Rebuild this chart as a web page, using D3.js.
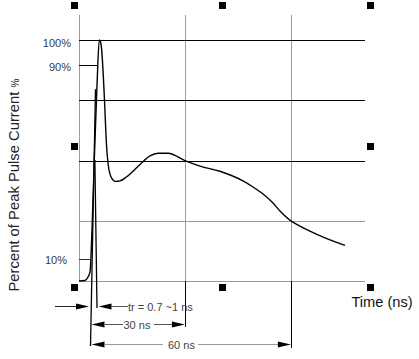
<!DOCTYPE html>
<html><head><meta charset="utf-8">
<script src="https://cdn.jsdelivr.net/npm/d3@7"></script>
<style>html,body{margin:0;padding:0;background:#fff;}svg{display:block;}</style>
</head><body>
<svg id="c" width="419" height="359"></svg>
<script>
// ---- data ----
const times = [0, 1.7, 2.55, 3.12, 3.68, 4.33, 5.10, 5.75, 6.23, 6.80, 7.22, 7.79, 8.21, 8.78, 9.63, 10.48, 11.61, 13.5, 17.28, 20.1, 22.37, 25.2, 30.0, 34.27, 39.9, 46.45, 49.28, 52.11, 54.66, 56.92, 60.03, 62.58, 65.41, 69.66, 75.33];
const percent = [0, 0.2, 1.8, 4.1, 21.96, 50.8, 81.75, 100, 98.4, 87.9, 75.5, 57.0, 49.6, 45.0, 42.6, 42.0, 42.2, 43.9, 49.0, 52.5, 53.6, 53.6, 50.6, 48.3, 46.2, 42.2, 39.7, 36.8, 33.5, 29.8, 25.7, 23.6, 21.5, 18.7, 15.6];
const vGrid = [0, 30, 60];
const hGridDark = [100, 75.5, 50.6];
const hGridLight = [25.7, 0];
const yTicks = [{v: 100, label: "100%"}, {v: 90, label: "90%"}, {v: 10, label: "10%"}];
const riseStart = 3.26, riseEnd = 5.1;
const durations = [30, 60];
const durationLabels = ["30 ns", "60 ns"];
const riseLabel = "tr = 0.7 ~1 ns";
const xTitle = "Time (ns)";
const yTitle = "Percent of Peak Pulse Current";

// ---- scales ----
const x = d3.scaleLinear().domain([0, 81]).range([79, 365]);
const y = d3.scaleLinear().domain([0, 10, 90, 100]).range([281, 259, 65, 40]);
const svg = d3.select("#c");
const FONT = "'Liberation Sans', Arial, sans-serif";
const px = v => Math.round(v) + 0.5;

// grid
const g = svg.append("g").attr("shape-rendering", "crispEdges");
g.selectAll(".v").data(vGrid).join("line")
  .attr("x1", d => px(x(d))).attr("x2", d => px(x(d)))
  .attr("y1", y(110)).attr("y2", y(0)).attr("stroke", "#9a9a9a");
g.selectAll(".hl").data(hGridLight).join("line")
  .attr("x1", x(0)).attr("x2", x(81))
  .attr("y1", d => px(y(d))).attr("y2", d => px(y(d))).attr("stroke", "#9a9a9a");
g.selectAll(".hd").data(hGridDark).join("line")
  .attr("x1", x(0)).attr("x2", x(81))
  .attr("y1", d => px(y(d))).attr("y2", d => px(y(d))).attr("stroke", "#000");
// small ticks
g.append("line").attr("x1", x(0)).attr("x2", x(riseEnd)).attr("y1", px(y(90))).attr("y2", px(y(90))).attr("stroke", "#000");
g.append("line").attr("x1", x(0)).attr("x2", x(3.1)).attr("y1", px(y(10))).attr("y2", px(y(10))).attr("stroke", "#333");

// tick labels
const lab = svg.append("g").attr("font-family", FONT).attr("font-size", 11).attr("fill", "#3a3a3a").attr("text-anchor", "end");
lab.append("text").attr("x", 71).attr("y", y(100) + 6.5).text(yTicks[0].label);
lab.append("text").attr("x", 71).attr("y", y(90) + 5.5).text(yTicks[1].label);
lab.append("text").attr("x", 67).attr("y", y(10) + 4.5).text(yTicks[2].label);

// marker lines
const mk = svg.append("g").attr("stroke", "#000").attr("stroke-width", 1.3);
mk.append("line").attr("x1", x(4.67)).attr("y1", y(80)).attr("x2", x(riseStart)).attr("y2", 346);
mk.append("line").attr("x1", x(4.5)).attr("y1", y(50.8)).attr("x2", x(riseEnd)).attr("y2", 308);
mk.append("line").attr("x1", px(x(durations[0]))).attr("x2", px(x(durations[0]))).attr("y1", y(0)).attr("y2", 327).attr("stroke-width", 1).attr("shape-rendering", "crispEdges");
mk.append("line").attr("x1", px(x(durations[1]))).attr("x2", px(x(durations[1]))).attr("y1", y(0)).attr("y2", 348).attr("stroke-width", 1).attr("shape-rendering", "crispEdges");

// pulse curve
const pts = times.map((t, i) => [t, percent[i]]);
svg.append("path").datum(pts)
  .attr("d", d3.line().x(d => x(d[0])).y(d => y(d[1])).curve(d3.curveMonotoneX))
  .attr("fill", "none").attr("stroke", "#000").attr("stroke-width", 1.4);

// arrows
const an = svg.append("g");
function arrow(tip, yy, dir) {
  an.append("path").attr("d", `M${tip},${yy}L${tip - dir * 13},${yy - 3}L${tip - dir * 13},${yy + 3}Z`).attr("fill", "#000");
}
function seg(x1, x2, yy, c) {
  an.append("line").attr("x1", x1).attr("x2", x2).attr("y1", px(yy)).attr("y2", px(yy)).attr("stroke", c || "#888").attr("shape-rendering", "crispEdges");
}
const at = svg.append("g").attr("font-family", FONT).attr("font-size", 11).attr("fill", "#444");
// row 1
const r1 = 306;
seg(55, x(riseStart) - 13, r1, "#222"); arrow(x(riseStart) - 1.5, r1 + 0.5, 1);
arrow(x(riseEnd) + 1.5, r1 + 0.5, -1); seg(x(riseEnd) + 14, 128, r1, "#555");
at.append("text").attr("x", 128).attr("y", r1 + 4.5).text(riseLabel);
// row 2
const r2 = 324;
arrow(x(riseStart) + 1, r2 + 0.5, -1); seg(x(riseStart) + 14, 123, r2, "#555");
at.append("text").attr("x", 123.5).attr("y", r2 + 4.5).text(durationLabels[0]);
seg(154, x(durations[0]) - 13, r2, "#555"); arrow(x(durations[0]), r2 + 0.5, 1);
// row 3
const r3 = 344;
arrow(x(riseStart) + 1, r3 + 0.5, -1); seg(x(riseStart) + 14, 163, r3, "#999");
at.append("text").attr("x", 168).attr("y", r3 + 4.5).text(durationLabels[1]);
seg(198, x(durations[1]) - 13, r3, "#999"); arrow(x(durations[1]), r3 + 0.5, 1);

// axis titles
svg.append("text").attr("font-family", FONT).attr("font-size", 14.6).attr("fill", "#111")
  .attr("x", 351.5).attr("y", 306.5).text(xTitle);
const yt = svg.append("text").attr("font-family", FONT).attr("font-size", 14.8).attr("fill", "#222")
  .attr("transform", "translate(18.5,291.5) rotate(-90)");
yt.append("tspan").text(yTitle + " ");
yt.append("tspan").attr("font-size", 10).text("%");

// selection handles
const hx = [70.5, 218.5, 367], hy = [2, 143, 284];
const handles = [];
hx.forEach(a => hy.forEach(b => { if (!(a === 218.5 && b === 143)) handles.push([a, b]); }));
svg.append("g").selectAll("rect").data(handles).join("rect")
  .attr("x", d => Math.round(d[0])).attr("y", d => d[1]).attr("width", 7).attr("height", 7).attr("fill", "#000");
</script>
</body></html>
